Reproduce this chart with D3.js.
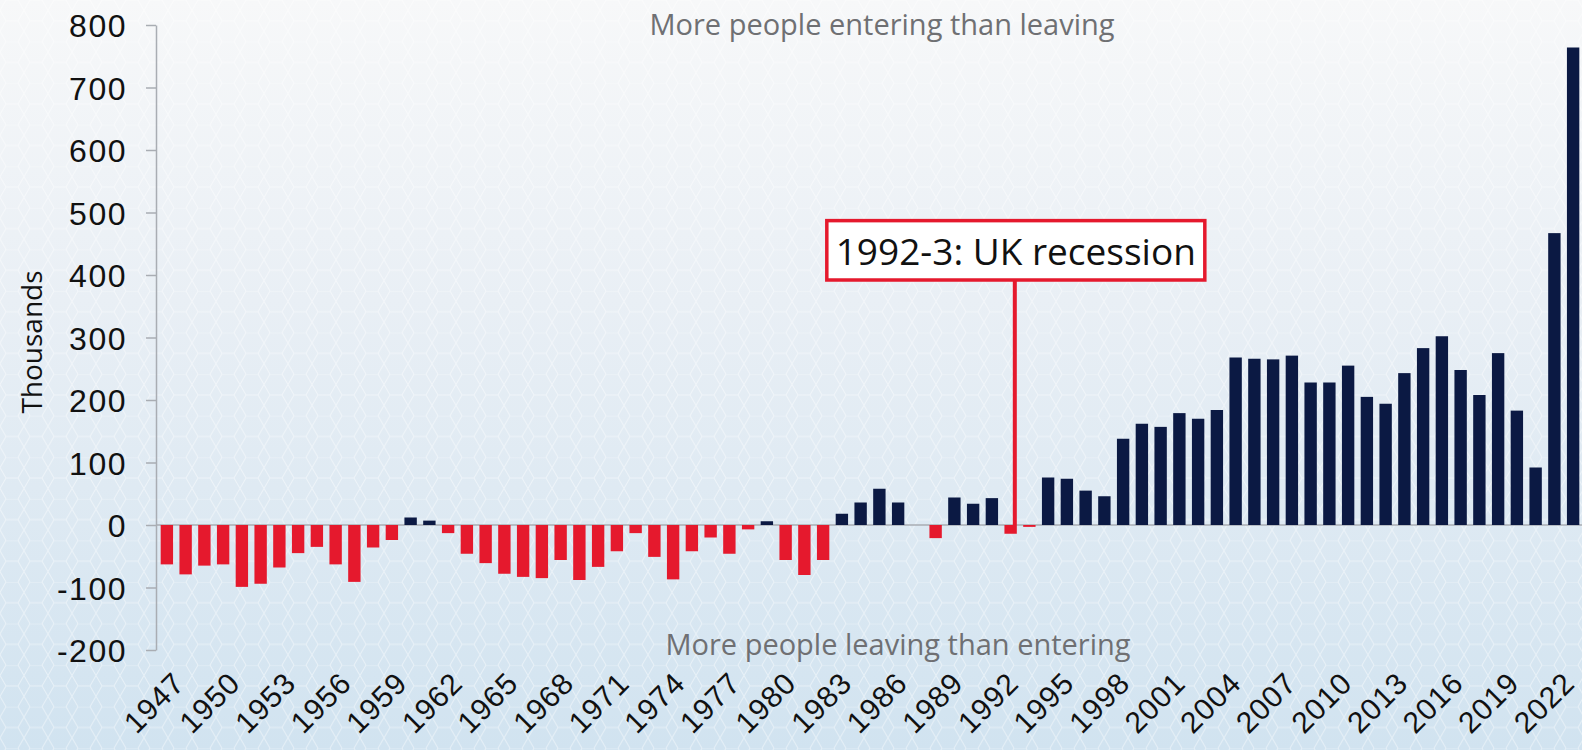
<!DOCTYPE html>
<html>
<head>
<meta charset="utf-8">
<script src="https://cdn.jsdelivr.net/npm/d3@7"></script>
<style>
  body { margin: 0; background: #fff; }
  svg { display: block; font-family: 'Open Sans', sans-serif; }
</style>
</head>
<body>
<svg id="chart" width="1582" height="750"></svg>
<script>
// net migration to the UK, thousands
const years = [
  1947, 1948, 1949, 1950, 1951, 1952, 1953, 1954, 1955, 1956,
  1957, 1958, 1959, 1960, 1961, 1962, 1963, 1964, 1965, 1966,
  1967, 1968, 1969, 1970, 1971, 1972, 1973, 1974, 1975, 1976,
  1977, 1978, 1979, 1980, 1981, 1982, 1983, 1984, 1985, 1986,
  1987, 1988, 1989, 1990, 1991, 1992, 1993, 1994, 1995, 1996,
  1997, 1998, 1999, 2000, 2001, 2002, 2003, 2004, 2005, 2006,
  2007, 2008, 2009, 2010, 2011, 2012, 2013, 2014, 2015, 2016,
  2017, 2018, 2019, 2020, 2021, 2022
];
const netMigration = [
  -63, -79, -65, -63, -99, -94, -68, -45, -35, -63,
  -91, -36, -24, 12, 7, -13, -46, -61, -78, -83,
  -85, -56, -88, -67, -42, -13, -51, -87, -42, -20,
  -46, -7, 6, -56, -80, -56, 18, 36, 58, 36,
  0, -21, 44, 34, 43, -14, -3, 76, 74, 55,
  46, 138, 162, 157, 179, 170, 184, 268, 266, 265,
  271, 228, 228, 255, 205, 194, 243, 283, 302, 248,
  208, 275, 183, 92, 467, 764
];
const yTicks = [-200, -100, 0, 100, 200, 300, 400, 500, 600, 700, 800];
const yearLabels = [
  1947, 1950, 1953, 1956, 1959, 1962, 1965, 1968, 1971, 1974, 1977, 1980, 1983,
  1986, 1989, 1992, 1995, 1998, 2001, 2004, 2007, 2010, 2013, 2016, 2019, 2022
];
const annotationYear = 1992;
const annotationText = '1992-3: UK recession';

const width = 1582, height = 750;
const red = '#e5192d', navy = '#0b1943', grey = '#a9adb3';

const svg = d3.select('#chart');
const defs = svg.append('defs');

// background
const grad = defs.append('linearGradient')
  .attr('id', 'bg').attr('x1', 0).attr('y1', 0).attr('x2', 0).attr('y2', 1);
grad.append('stop').attr('offset', '0%').attr('stop-color', '#f7f8f9');
grad.append('stop').attr('offset', '40%').attr('stop-color', '#e9eff5');
grad.append('stop').attr('offset', '100%').attr('stop-color', '#d1e3f0');

const hex = defs.append('pattern')
  .attr('id', 'hex').attr('patternUnits', 'userSpaceOnUse')
  .attr('width', 24).attr('height', 41.57);
hex.append('path')
  .attr('d', 'M0,10.39 L6,0 L18,0 L24,10.39 L18,20.78 L6,20.78 Z M18,20.78 L24,31.18 L18,41.57 M6,20.78 L0,31.18 L6,41.57')
  .attr('fill', 'none').attr('stroke', '#ffffff').attr('stroke-width', 1).attr('stroke-opacity', 0.45);

svg.append('rect').attr('width', width).attr('height', height).attr('fill', 'url(#bg)');
svg.append('rect').attr('width', width).attr('height', height).attr('fill', 'url(#hex)');

// scales
const x = d3.scaleBand()
  .domain(years)
  .range([157.5, 1582.5])
  .paddingInner(0.34)
  .paddingOuter(0.17);
const y = d3.scaleLinear()
  .domain([-200, 800])
  .range([650, 25]);
// the year labels sit on a slightly tighter spacing than the bars
const xLabel = d3.scaleLinear()
  .domain([1947, 2022])
  .range([186, 1576]);

// y axis
const yAxis = d3.axisLeft(y)
  .tickValues(yTicks)
  .tickFormat(d => String(d))
  .tickSize(10)
  .tickSizeOuter(0)
  .tickPadding(19);
const yAxisNode = svg.append('g')
  .attr('transform', 'translate(156,0)')
  .call(yAxis);
yAxisNode.select('.domain').attr('stroke', grey).attr('stroke-width', 1.5);
yAxisNode.selectAll('.tick line').attr('stroke', grey).attr('stroke-width', 1.5);
yAxisNode.selectAll('.tick text')
  .attr('fill', '#111')
  .style('font-size', '32px')
  .style('letter-spacing', '1.5px')
  .attr('dy', '0.36em');

// zero line
svg.append('line')
  .attr('x1', 156).attr('x2', width)
  .attr('y1', y(0)).attr('y2', y(0))
  .attr('stroke', grey).attr('stroke-width', 1.5);

// bars
svg.append('g')
  .selectAll('rect')
  .data(years)
  .enter()
  .append('rect')
  .attr('x', d => x(d))
  .attr('width', x.bandwidth())
  .attr('y', (d, i) => y(Math.max(0, netMigration[i])))
  .attr('height', (d, i) => Math.abs(y(netMigration[i]) - y(0)))
  .attr('fill', (d, i) => netMigration[i] < 0 ? red : navy);

// x axis labels (rotated)
const xAxis = d3.axisBottom(xLabel)
  .tickValues(yearLabels)
  .tickFormat(d => String(d))
  .tickSize(0)
  .tickPadding(0);
const xAxisNode = svg.append('g')
  .attr('transform', `translate(0,${y(-200)})`)
  .call(xAxis);
xAxisNode.select('.domain').remove();
xAxisNode.selectAll('.tick text')
  .attr('fill', '#111')
  .style('font-size', '30px')
  .style('letter-spacing', '1px')
  .attr('text-anchor', 'end')
  .attr('dy', 0)
  .attr('y', 0)
  .attr('transform', 'translate(0,35) rotate(-45)');

// y axis title
svg.append('text')
  .attr('transform', 'translate(42,342) rotate(-90)')
  .attr('text-anchor', 'middle')
  .attr('fill', '#111')
  .style('font-size', '28px')
  .text('Thousands');

// top / bottom notes
svg.append('text')
  .attr('x', 882).attr('y', 35)
  .attr('text-anchor', 'middle')
  .attr('fill', '#6f7073')
  .style('font-size', '29px')
  .text('More people entering than leaving');
svg.append('text')
  .attr('x', 898).attr('y', 655)
  .attr('text-anchor', 'middle')
  .attr('fill', '#6f7073')
  .style('font-size', '29px')
  .text('More people leaving than entering');

// annotation
const ax = x(annotationYear) + x.bandwidth() - 2;
svg.append('line')
  .attr('x1', ax).attr('x2', ax)
  .attr('y1', y(392)).attr('y2', y(0))
  .attr('stroke', red).attr('stroke-width', 4);
const boxLeft = ax - 188, boxW = 378;
svg.append('rect')
  .attr('x', boxLeft).attr('y', y(487))
  .attr('width', boxW).attr('height', y(392) - y(487))
  .attr('fill', '#fff')
  .attr('stroke', red).attr('stroke-width', 3.5);
svg.append('text')
  .attr('x', boxLeft + boxW / 2)
  .attr('y', y(392) - 15)
  .attr('text-anchor', 'middle')
  .attr('fill', '#111')
  .style('font-size', '37px')
  .text(annotationText);
</script>
</body>
</html>
